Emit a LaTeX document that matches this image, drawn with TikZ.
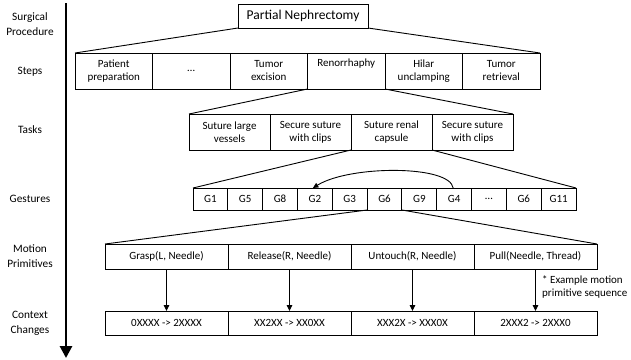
\documentclass[tikz,border=0pt]{standalone}
\usepackage{fontspec}
\setmainfont{Carlito}
\usetikzlibrary{arrows.meta}
\begin{document}
\begin{tikzpicture}[x=1pt,y=-1pt,
  cell/.style={draw, line width=0.9pt, inner sep=0pt, outer sep=0pt, align=center, font=\fontsize{11}{13}\selectfont},
  lab/.style={align=center, inner sep=0pt, font=\fontsize{11.3}{15}\selectfont},
  link/.style={line width=0.9pt},
  down/.style={line width=0.9pt, -{Triangle[width=5.5pt,length=6pt]}}]
\useasboundingbox (0,0) rectangle (631,359);
% axis
\coordinate (axtop) at (66,3);
\coordinate (axbot) at (66,358);
\draw[line width=2.8pt, -{Triangle[width=12pt,length=12pt]}] (axtop) -- (axbot);
% left labels
\node[lab] (l1) at (30,24.5) {Surgical\\Procedure};
\node[lab] (l2) at (30,72) {Steps};
\node[lab] (l3) at (30,130) {Tasks};
\node[lab] (l4) at (30,199) {Gestures};
\node[lab] (l5) at (30,256.5) {Motion\\Primitives};
\node[lab] (l6) at (30,323.5) {Context\\Changes};
% top
\node[cell, minimum width=130pt, minimum height=24pt, font=\fontsize{13.5}{16}\selectfont] (top) at (303,16) {Partial Nephrectomy};
% steps
\foreach \t [count=\i] in {{Patient\\preparation},{…},{Tumor\\excision},{Renorrhaphy\\\strut},{Hilar\\unclamping},{Tumor\\retrieval}}
  \node[cell, minimum width=77.5pt, minimum height=36pt] (s\i) at ({75+77.5*(\i-0.5)},71) {\t};
% tasks
\foreach \t [count=\i] in {{Suture large\\vessels},{Secure suture\\with clips},{Suture renal\\capsule},{Secure suture\\with clips}}
  \node[cell, minimum width=81pt, minimum height=36pt] (t\i) at ({189+81*(\i-0.5)},132) {\t};
% gestures
\foreach \t [count=\i] in {G1,G5,G8,G2,G3,G6,G9,G4,…,G6,G11}
  \node[cell, minimum width=34.82pt, minimum height=22pt] (g\i) at ({193+34.82*(\i-0.5)},199) {\t};
% motion primitives
\foreach \t [count=\i] in {{Grasp(L, Needle)},{Release(R, Needle)},{Untouch(R, Needle)},{Pull(Needle, Thread)}}
  \node[cell, minimum width=123pt, minimum height=25pt] (m\i) at ({105+123*(\i-0.5)},256.5) {\t};
% context changes
\foreach \t [count=\i] in {{0XXXX -> 2XXXX},{XX2XX -> XX0XX},{XXX2X -> XXX0X},{2XXX2 -> 2XXX0}}
  \node[cell, minimum width=123pt, minimum height=24pt] (c\i) at ({105+123*(\i-0.5)},323) {\t};
% expansion lines
\draw[link] (top.south west) -- (s1.north west);
\draw[link] (top.south east) -- (s6.north east);
\draw[link] (s4.south west) -- (t1.north west);
\draw[link] (s4.south east) -- (t4.north east);
\draw[link] (t3.south west) -- (g1.north west);
\draw[link] (t3.south east) -- (g11.north east);
\draw[link] (g6.south west) -- (m1.north west);
\draw[link] (g6.south east) -- (m4.north east);
% curved arrow
\draw[line width=0.9pt, -{Triangle[width=5pt,length=5.5pt]}] ([xshift=-1pt]g8.north) .. controls (450,165) and (350,165) .. ([xshift=-2pt]g4.north);
% arrows
\foreach \i in {1,2,3,4}
  \draw[down] (m\i.south) -- (c\i.north);
% note
\node[anchor=west, align=left, inner sep=0pt, font=\fontsize{11}{13}\selectfont] (note) at (542,286.5) {* Example motion\\primitive sequence};
\end{tikzpicture}
\end{document}
